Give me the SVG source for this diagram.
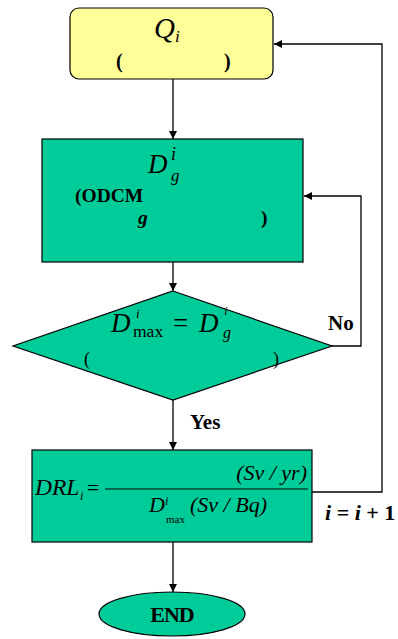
<svg xmlns="http://www.w3.org/2000/svg" width="398" height="639" viewBox="0 0 398 639">
<style>
.n{fill:#00cc99;stroke:#000;stroke-width:1.2}
.y{fill:#ffff99;stroke:#000;stroke-width:1.2}
.c{fill:none;stroke:#000;stroke-width:1.3}
text{font-family:'Liberation Serif','Times New Roman','DejaVu Serif',serif;fill:#000}
.m{font-style:italic}
.b{font-weight:bold}
</style>
<defs>
<marker id="a" viewBox="0 0 10 10" refX="10" refY="5" markerWidth="8" markerHeight="8" markerUnits="userSpaceOnUse" orient="auto">
<path d="M0,0L10,5L0,10z" fill="#000"/>
</marker>
</defs>
<g id="connectors">
<path class="c" d="M173,79V139" marker-end="url(#a)"/>
<path class="c" d="M173,262V291" marker-end="url(#a)"/>
<path class="c" d="M173,400V450" marker-end="url(#a)"/>
<path class="c" d="M173,542V592" marker-end="url(#a)"/>
<path class="c" d="M332,346H361V196H304" marker-end="url(#a)"/>
<path class="c" d="M312,492H382V44H274" marker-end="url(#a)"/>
<text class="b" x="328" y="330" font-size="21">No</text>
<text class="b" x="190" y="429" font-size="21">Yes</text>
<text class="b" x="325" y="520" font-size="22"><tspan font-style="italic">i</tspan> = <tspan font-style="italic">i</tspan> + 1</text>
</g>
<g id="start">
<rect class="y" x="70" y="8" width="203" height="71" rx="9"/>
<text class="m" x="154" y="38" font-size="29">Q</text>
<text class="m" x="175" y="42" font-size="17">i</text>
<text class="b" x="116" y="68" font-size="20">(</text>
<text class="b" x="224" y="68" font-size="20">)</text>
</g>
<g id="dg">
<rect class="n" x="42" y="139" width="261" height="123"/>
<text class="m" x="148" y="173" font-size="27">D</text>
<text class="m" x="171" y="160" font-size="18">i</text>
<text class="m" x="171" y="181" font-size="17">g</text>
<text class="b" x="75" y="202" font-size="19.5">(ODCM</text>
<text class="b m" x="138" y="224" font-size="19.5">g</text>
<text class="b" x="261" y="224" font-size="19.5">)</text>
</g>
<g id="check">
<path class="n" d="M173,291L332,346L173,400L13,346z"/>
<text class="m" x="111" y="332" font-size="27">D</text>
<text class="m" x="136" y="318" font-size="13">i</text>
<text x="133" y="337" font-size="17.5">max</text>
<text x="173" y="332" font-size="27">=</text>
<text class="m" x="199" y="332" font-size="27">D</text>
<text class="m" x="224" y="315" font-size="13">i</text>
<text class="m" x="223" y="338" font-size="16">g</text>
<text x="84" y="365" font-size="18">(</text>
<text x="273" y="365" font-size="18">)</text>
</g>
<g id="drl">
<rect class="n" x="32" y="450" width="280" height="92"/>
<text class="m" x="35" y="495" font-size="23.5">DRL</text>
<text class="m" x="80" y="500" font-size="12">i</text>
<text x="87" y="495" font-size="22">=</text>
<line x1="105" y1="489" x2="308" y2="489" stroke="#000" stroke-width="1"/>
<text class="m" x="307" y="480" font-size="22" text-anchor="end">(Sv / yr)</text>
<text class="m" x="149" y="512" font-size="22">D</text>
<text class="m" x="165" y="505" font-size="12">i</text>
<text x="166" y="523" font-size="11">max</text>
<text class="m" x="190" y="512" font-size="22">(Sv / Bq)</text>
</g>
<g id="end">
<ellipse class="n" cx="172" cy="614" rx="73" ry="22"/>
<text class="b" x="172" y="622" font-size="22" text-anchor="middle" letter-spacing="-1">END</text>
</g>
</svg>
